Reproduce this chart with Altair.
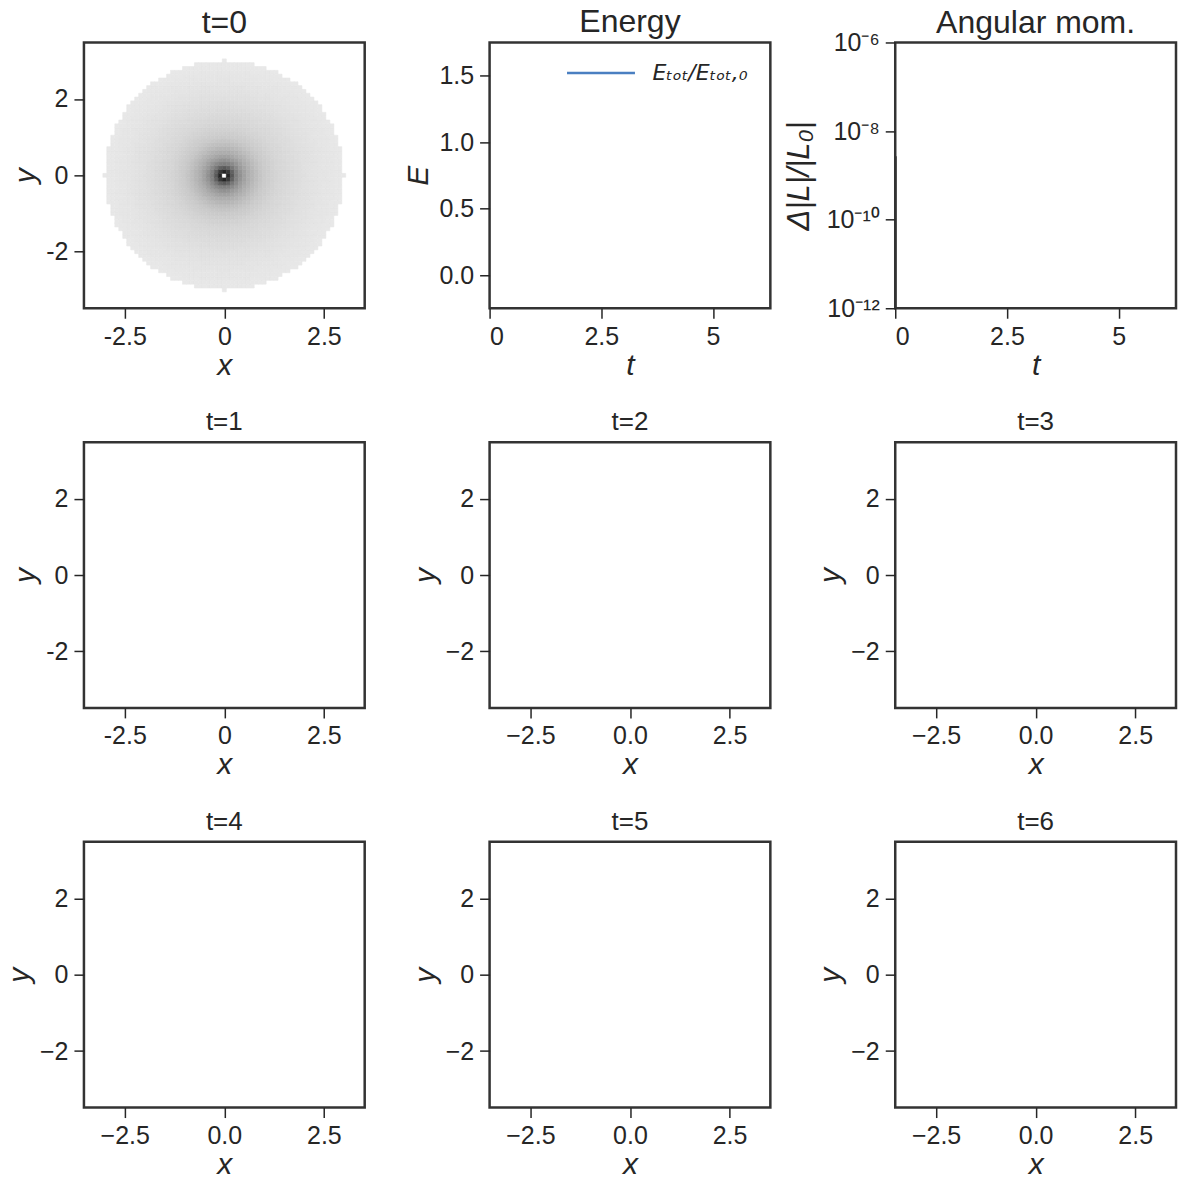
import altair as alt
import numpy as np
import pandas as pd

# ---------------- data ----------------
# t=0 panel: radial darkness profile of the 2D particle histogram (0 = white, 1 = black)
prof_r = [0.0, 0.06, 0.1, 0.2, 0.3, 0.45, 0.6, 0.8, 1.0, 1.3, 1.6, 2.0, 2.4, 2.8, 3.0]
prof_d = [0.0, 0.0, 0.85, 0.62, 0.47, 0.36, 0.29, 0.23, 0.185, 0.15, 0.13, 0.11, 0.095, 0.085, 0.08]
disk_radius = 3.0
bin_width = 0.1

# Energy panel (curve not visible inside the axes; only the legend entry shows)
energy_t = [0.0]
energy_val = [1.0]
energy_label = "Eₜₒₜ/Eₜₒₜ,₀"

# Angular momentum panel: short segment at t=0
angmom_t = [0.0, 0.0]
angmom_val = [2.7e-9, 1e-13]

snapshot_titles = ["t=1", "t=2", "t=3", "t=4", "t=5", "t=6"]

x_ticks = [-2.5, 0, 2.5]
y_ticks = [-2, 0, 2]
t_ticks = [0, 2.5, 5]
e_ticks = [0.0, 0.5, 1.0, 1.5]
l_ticks = [1e-12, 1e-10, 1e-8, 1e-6]

# ---------------- build tables ----------------
cells = []
n = int(round(disk_radius / bin_width))
for i in range(-n, n + 1):
    for j in range(-n, n + 1):
        cx, cy = i * bin_width, j * bin_width
        r = float(np.hypot(cx, cy))
        if r <= disk_radius + 1e-9:
            cells.append({
                "x": cx - bin_width / 2, "x2": cx + bin_width / 2,
                "y": cy - bin_width / 2, "y2": cy + bin_width / 2,
                "d": float(np.interp(r, prof_r, prof_d)),
            })
density_df = pd.DataFrame(cells)
energy_df = pd.DataFrame({"t": energy_t, "E": energy_val, "s": [energy_label] * len(energy_t)})
angmom_df = pd.DataFrame({"t": angmom_t, "L": angmom_val})
empty_df = pd.DataFrame({"x": [0.0], "y": [0.0]})

# ---------------- styling ----------------
FONT = "Liberation Sans"
TXT = "#262626"
BLUE = "#4a7fc1"
W, H = 281, 266
XDOM = [-3.525, 3.525]
YDOM = [-3.48, 3.48]


def lab_hyphen(fmt):
    return f"datum.value < 0 ? '-' + format(-datum.value, '{fmt}') : format(datum.value, '{fmt}')"


def lab_minus(fmt):
    return f"datum.value < 0 ? '\u2212' + format(-datum.value, '{fmt}') : format(datum.value, '{fmt}')"


def xy_axes(unicode_style):
    if unicode_style:
        xl, yl = lab_minus(".1f"), lab_minus("d")
    else:
        xl, yl = lab_hyphen("~g"), lab_hyphen("d")
    xax = alt.Axis(values=x_ticks, labelExpr=xl, title="x")
    yax = alt.Axis(values=y_ticks, labelExpr=yl, title="y")
    return xax, yax


# t=0 density panel
xax0, yax0 = xy_axes(False)
panel0 = alt.Chart(density_df).mark_rect(strokeWidth=0.6).encode(
    x=alt.X("x:Q", scale=alt.Scale(domain=XDOM, nice=False, zero=False), axis=xax0),
    x2="x2:Q",
    y=alt.Y("y:Q", scale=alt.Scale(domain=YDOM, nice=False, zero=False), axis=yax0),
    y2="y2:Q",
    color=alt.Color("d:Q", scale=alt.Scale(domain=[0, 1], range=["#ffffff", "#000000"]), legend=None),
    stroke=alt.Stroke("d:Q", scale=alt.Scale(domain=[0, 1], range=["#ffffff", "#000000"]), legend=None),
).properties(width=W, height=H, title=alt.TitleParams("t=0", fontSize=32, offset=2))

# Energy panel
energy = alt.Chart(energy_df).mark_line(strokeWidth=2.5).encode(
    x=alt.X("t:Q", scale=alt.Scale(domain=[0, 2 * np.pi], nice=False, zero=False),
            axis=alt.Axis(values=t_ticks, labelExpr="format(datum.value, '~g')", title="t")),
    y=alt.Y("E:Q", scale=alt.Scale(domain=[-0.25, 1.75], nice=False, zero=False),
            axis=alt.Axis(values=e_ticks, format=".1f", title="E")),
    color=alt.Color("s:N", scale=alt.Scale(domain=[energy_label], range=[BLUE]),
                    legend=alt.Legend(title=None, orient="none", legendX=76, legendY=-5,
                                      symbolType="stroke", symbolSize=4624, symbolStrokeWidth=2.5,
                                      labelFont="DejaVu Sans", labelFontSize=22, labelFontStyle="italic",
                                      labelColor=TXT, labelOffset=16, padding=0)),
).properties(width=W, height=H, title=alt.TitleParams("Energy", fontSize=32, offset=-2))

# Angular momentum panel
lab_log = ("datum.value < 1.5e-12 ? '10\u207b\u00b9\u00b2' : datum.value < 1.5e-10 ? '10\u207b\u00b9\u2070' : "
           "datum.value < 1.5e-8 ? '10\u207b\u2078' : '10\u207b\u2076'")
angmom = alt.Chart(angmom_df).mark_line(strokeWidth=3, color="#333333", clip=True).encode(
    x=alt.X("t:Q", scale=alt.Scale(domain=[0, 2 * np.pi], nice=False, zero=False),
            axis=alt.Axis(values=t_ticks, labelExpr="format(datum.value, '~g')", title="t")),
    y=alt.Y("L:Q", scale=alt.Scale(type="log", domain=[1e-12, 1e-6], nice=False),
            axis=alt.Axis(values=l_ticks, labelExpr=lab_log, title="Δ|L|/|L₀|",
                          titleFontSize=31, titlePadding=11)),
).properties(width=W, height=H, title=alt.TitleParams("Angular mom.", fontSize=32, offset=-10))


def snapshot(title, unicode_style):
    xax, yax = xy_axes(unicode_style)
    return alt.Chart(empty_df).mark_point(opacity=0).encode(
        x=alt.X("x:Q", scale=alt.Scale(domain=XDOM, nice=False, zero=False), axis=xax),
        y=alt.Y("y:Q", scale=alt.Scale(domain=YDOM, nice=False, zero=False), axis=yax),
    ).properties(width=W, height=H, title=alt.TitleParams(title, fontSize=26, offset=7))


snaps = [snapshot(t, i > 0) for i, t in enumerate(snapshot_titles)]

chart = alt.concat(
    panel0, energy, angmom, *snaps,
    columns=3,
    spacing=alt.RowColnumber(row=134, column=125),
    bounds="flush",
).resolve_scale(
    color="independent", stroke="independent"
).properties(
    padding={"left": -5, "top": -4, "right": 0, "bottom": -6}
).configure_view(
    stroke="#333333", strokeWidth=2.5
).configure_axis(
    domain=False, grid=False,
    labelFont=FONT, labelFontSize=25, labelColor=TXT,
    tickColor=TXT, tickWidth=1.5, tickSize=10,
    titleFont=FONT, titleFontSize=30, titleFontWeight="normal",
    titleFontStyle="italic", titleColor=TXT,
).configure_axisX(
    labelPadding=6, titlePadding=1,
).configure_axisY(
    labelPadding=6, titlePadding=5,
).configure_title(
    font=FONT, fontWeight="normal", color=TXT, anchor="middle",
    baseline="alphabetic",
)

chart.save("out.html", embed_options={"renderer": "svg", "actions": False})
